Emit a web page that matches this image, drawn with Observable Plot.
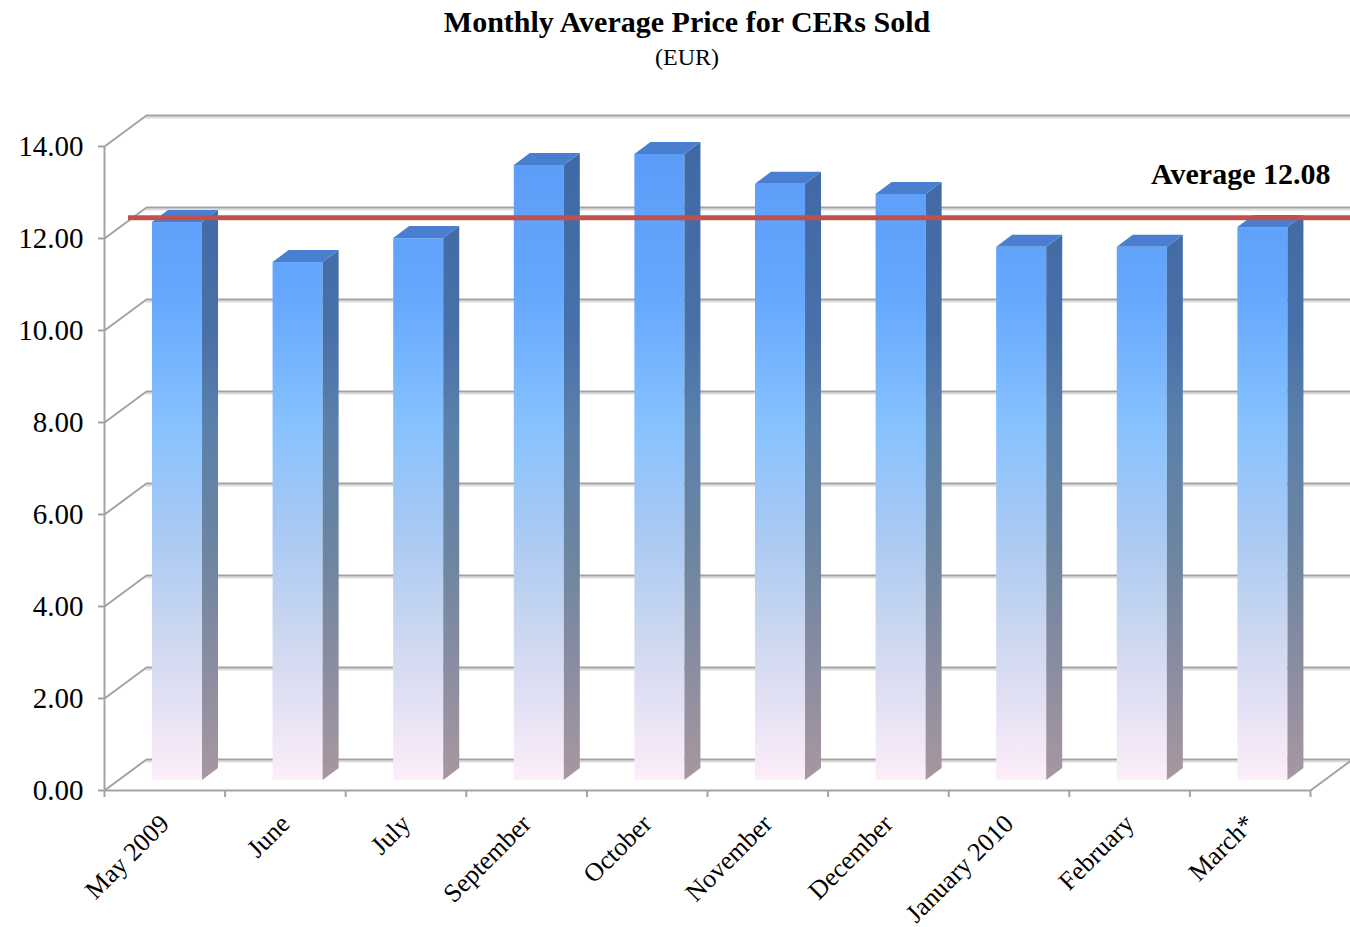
<!DOCTYPE html>
<html>
<head>
<meta charset="utf-8">
<script src="https://cdn.jsdelivr.net/npm/d3@7"></script>
<script src="https://cdn.jsdelivr.net/npm/@observablehq/plot@0.6"></script>
<style>
  html, body { margin: 0; padding: 0; background: #fff; overflow: hidden; }
  #head { height: 80px; position: relative; font-family: 'Liberation Serif', 'Times New Roman', serif; color: #000; }
  #title { position: absolute; left: 0; width: 1374px; top: 5px; text-align: center; font-weight: bold; font-size: 30px; line-height: 34px; }
  #subtitle { position: absolute; left: 0; width: 1374px; top: 44px; text-align: center; font-size: 24px; line-height: 26px; }
  #chart svg { display: block; overflow: hidden; }
</style>
</head>
<body>
<div id="head">
  <div id="title">Monthly Average Price for CERs Sold</div>
  <div id="subtitle">(EUR)</div>
</div>
<div id="chart"></div>
<script>
// ---- data ----
const months = ["May 2009", "June", "July", "September", "October", "November", "December", "January 2010", "February", "March*"];
const prices = [12.13, 11.26, 11.78, 13.37, 13.61, 12.96, 12.74, 11.59, 11.59, 12.02];
const yTicks = [0, 2, 4, 6, 8, 10, 12, 14];
const average = 12.08;

// ---- layout / style ----
const W = 1350, H = 847, mL = 104, mR = 40, mT = 66, mB = 137;
const yMax = 14;
const kx = (W - mL - mR) / months.length;   // px per band
const ky = (H - mT - mB) / yMax;            // px per unit
const wall = {dx: 42, dy: -31};             // back wall offset (px)
const plane = {dx: 13, dy: -10};            // bar front-face offset (px)
const depth = {dx: 16, dy: -12};            // bar depth (px)
const avgPlane = {dx: 24, dy: -17};         // average line offset (px)
const barLeft = 0.29, barWidth = 0.415;     // fractions of band
const font = "'Liberation Serif', 'Times New Roman', serif";
const gridColor = "#a3a3a3";

const ddx = depth.dx / kx, ddy = -depth.dy / ky;
const rows = months.map((m, i) => ({month: m, i, price: prices[i], x1: i + barLeft, x2: i + barLeft + barWidth}));
const sideData = rows.flatMap(r => [
  {month: r.month, x: r.x2, y1: 0, y2: r.price},
  {month: r.month, x: r.x2 + ddx, y1: ddy, y2: r.price + ddy}
]);
const topData = rows.flatMap(r => [
  {month: r.month, y: r.price, x1: r.x1, x2: r.x2},
  {month: r.month, y: r.price + ddy, x1: r.x1 + ddx, x2: r.x2 + ddx}
]);

const chart = Plot.plot({
  width: W, height: H,
  marginLeft: mL, marginRight: mR, marginTop: mT, marginBottom: mB,
  style: {fontFamily: font, background: "#fff", color: "#000"},
  x: {type: "linear", domain: [0, months.length]},
  y: {domain: [0, yMax]},
  marks: [
    // back wall gridlines (light shadow + line)
    Plot.ruleY(yTicks, {x1: 0, x2: months.length, dx: wall.dx, dy: wall.dy + 2, stroke: "#dedede", strokeWidth: 2}),
    Plot.ruleY(yTicks, {x1: 0, x2: months.length, dx: wall.dx, dy: wall.dy, stroke: gridColor, strokeWidth: 2}),
    // side-wall diagonals
    Plot.link(yTicks, {x1: 0, y1: d => d, x2: wall.dx / kx, y2: d => d - wall.dy / ky, stroke: gridColor, strokeWidth: 2}),
    // floor right diagonal
    Plot.link([0], {x1: months.length, y1: 0, x2: months.length + wall.dx / kx, y2: -wall.dy / ky, stroke: gridColor, strokeWidth: 2}),
    // front axis lines
    Plot.ruleX([0], {y1: 0, y2: yMax, stroke: gridColor, strokeWidth: 2}),
    Plot.ruleY([0], {x1: 0, x2: months.length, stroke: gridColor, strokeWidth: 2}),
    // axes
    Plot.axisY({ticks: yTicks, tickFormat: d3.format(".2f"), tickSize: 6, tickPadding: 15, fontSize: 29, stroke: gridColor, strokeWidth: 2, fill: "#000", label: null}),
    Plot.axisX({ticks: d3.range(0, months.length + 1), tickSize: 7, tickFormat: () => "", stroke: gridColor, strokeWidth: 2, label: null}),
    Plot.text(months, {x: (d, i) => i + 0.5, y: () => 0, text: d => d, rotate: -45, textAnchor: "end", dx: 0, dy: 29, fontSize: 26, fill: "#000"}),
    // 3D bars
    Plot.rect(rows, {x1: "x1", x2: "x2", y1: () => 0, y2: "price", fill: "url(#frontGrad)", dx: plane.dx, dy: plane.dy}),
    Plot.areaY(sideData, {x: "x", y1: "y1", y2: "y2", z: "month", fill: "url(#sideGrad)", dx: plane.dx, dy: plane.dy}),
    Plot.areaX(topData, {y: "y", x1: "x1", x2: "x2", z: "month", fill: "#4a7fd0", dx: plane.dx, dy: plane.dy}),
    // average line & label
    Plot.ruleY([average], {x1: 0, x2: months.length + 0.5, dx: avgPlane.dx, dy: avgPlane.dy, stroke: "#c0504d", strokeWidth: 5}),
    Plot.text([average], {x: months.length, y: d => d, text: d => `Average ${d.toFixed(2)}`, textAnchor: "end", lineAnchor: "bottom", dx: 20, dy: -51, fontSize: 30, fontWeight: "bold", fill: "#000"})
  ]
});

// gradients (in user space of the bar marks)
const yS = chart.scale("y");
const gTop = yS.apply(yMax), gBot = yS.apply(0);
const defs = d3.select(chart).insert("defs", ":first-child");
function grad(id, stops) {
  const g = defs.append("linearGradient").attr("id", id)
    .attr("gradientUnits", "userSpaceOnUse")
    .attr("x1", 0).attr("x2", 0).attr("y1", gTop).attr("y2", gBot);
  stops.forEach(([o, c]) => g.append("stop").attr("offset", o).attr("stop-color", c));
}
grad("frontGrad", [[0, "#5b9bf9"], [0.24, "#64a7fd"], [0.45, "#87c2ff"], [0.62, "#a9c9f3"], [0.76, "#c8d6ef"], [0.89, "#e5e1f4"], [1, "#fdeefa"]]);
grad("sideGrad", [[0, "#3e68a6"], [0.3, "#4870a8"], [0.45, "#5a80ab"], [0.65, "#6d85a0"], [0.85, "#8f8ea0"], [1, "#a8979f"]]);

document.getElementById("chart").appendChild(chart);
</script>
</body>
</html>
